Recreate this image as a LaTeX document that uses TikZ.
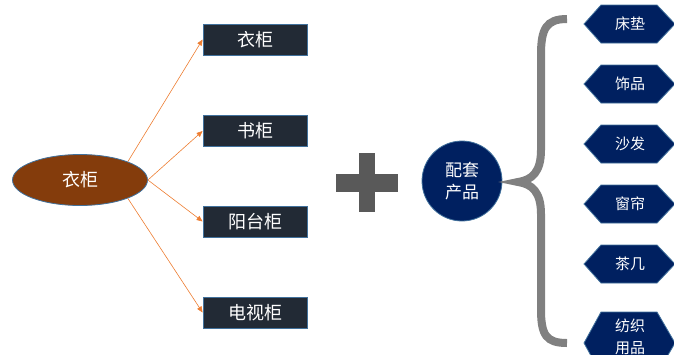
\documentclass[tikz,border=0pt]{standalone}
\usepackage{fontspec}
\newfontfamily\cjk{Noto Sans CJK SC}
\usetikzlibrary{shapes.geometric,arrows.meta}
\definecolor{brownfill}{HTML}{843C0C}
\definecolor{edgeblue}{HTML}{41719C}
\definecolor{darkbox}{HTML}{222A35}
\definecolor{navy}{HTML}{002060}
\definecolor{arrorange}{HTML}{ED7D31}
\definecolor{plusgray}{HTML}{595959}
\definecolor{bracegray}{HTML}{808080}
\tikzset{
  rectbox/.style={rectangle, fill=darkbox, draw=edgeblue, line width=0.8pt, minimum width=104pt, minimum height=31pt, inner sep=0pt, text=white, font=\cjk\fontsize{18}{20}\selectfont},
  ovalbox/.style={ellipse, fill=brownfill, draw=edgeblue, line width=0.8pt, minimum width=135pt, minimum height=51pt, inner sep=0pt, text=white, font=\cjk\fontsize{18}{20}\selectfont},
  roundbox/.style={circle, fill=navy, draw=edgeblue, line width=0.8pt, minimum size=80pt, inner sep=0pt, text=white, align=center, font=\cjk\fontsize{17}{22}\selectfont},
  hexfill/.style={fill=navy, draw=edgeblue, line width=0.8pt},
  hextext/.style={text=white, align=center, inner sep=0pt, font=\cjk\fontsize{15}{22}\selectfont},
  arr/.style={draw=arrorange, line width=0.6pt, -{Triangle[length=6pt,width=5pt]}}
}
\newcommand{\hexshape}[2]{% center y, half height
  \filldraw[hexfill] (584,#1) -- (601,#1-#2) -- (657,#1-#2) -- (675,#1) -- (657,#1+#2) -- (601,#1+#2) -- cycle;
}
\begin{document}
\begin{tikzpicture}[x=1pt,y=-1pt]
\useasboundingbox (0,0) rectangle (674,354);
\node[ovalbox] (el) at (80,180) {衣柜};
\node[rectbox] (r1) at (255,39.5) {衣柜};
\node[rectbox] (r2) at (255,131) {书柜};
\node[rectbox] (r3) at (255,221.5) {阳台柜};
\node[rectbox] (r4) at (255,312.5) {电视柜};
\draw[arr] (el.21) -- (r1.west);
\draw[arr] (el.east) -- (r2.west);
\draw[arr] (el.east) -- (r3.west);
\draw[arr] (el.-21) -- (r4.west);
% plus
\fill[plusgray] (336,174) rectangle (398,192);
\fill[plusgray] (359,153) rectangle (375,212);
\node[roundbox] (pc) at (462,181) {配套\\产品};
% brace
\draw[bracegray, line width=8pt] (567,19) .. controls (546,19) and (541,29) .. (541,55)
  -- (541,150) .. controls (541,172) and (532,180) .. (518,182)
  .. controls (532,184) and (541,192) .. (541,214)
  -- (541,309) .. controls (541,335) and (546,343) .. (567,343);
% hexagons
\hexshape{24}{19}
\node[hextext] (h1) at (630,24) {床垫};
\hexshape{84}{19}
\node[hextext] (h2) at (630,84) {饰品};
\hexshape{144}{19}
\node[hextext] (h3) at (630,144) {沙发};
\hexshape{204}{19}
\node[hextext] (h4) at (630,204) {窗帘};
\hexshape{264}{19}
\node[hextext] (h5) at (630,264) {茶几};
\hexshape{343}{31}
\node[hextext] (h6) at (630,337) {纺织\\用品};
\end{tikzpicture}
\end{document}
